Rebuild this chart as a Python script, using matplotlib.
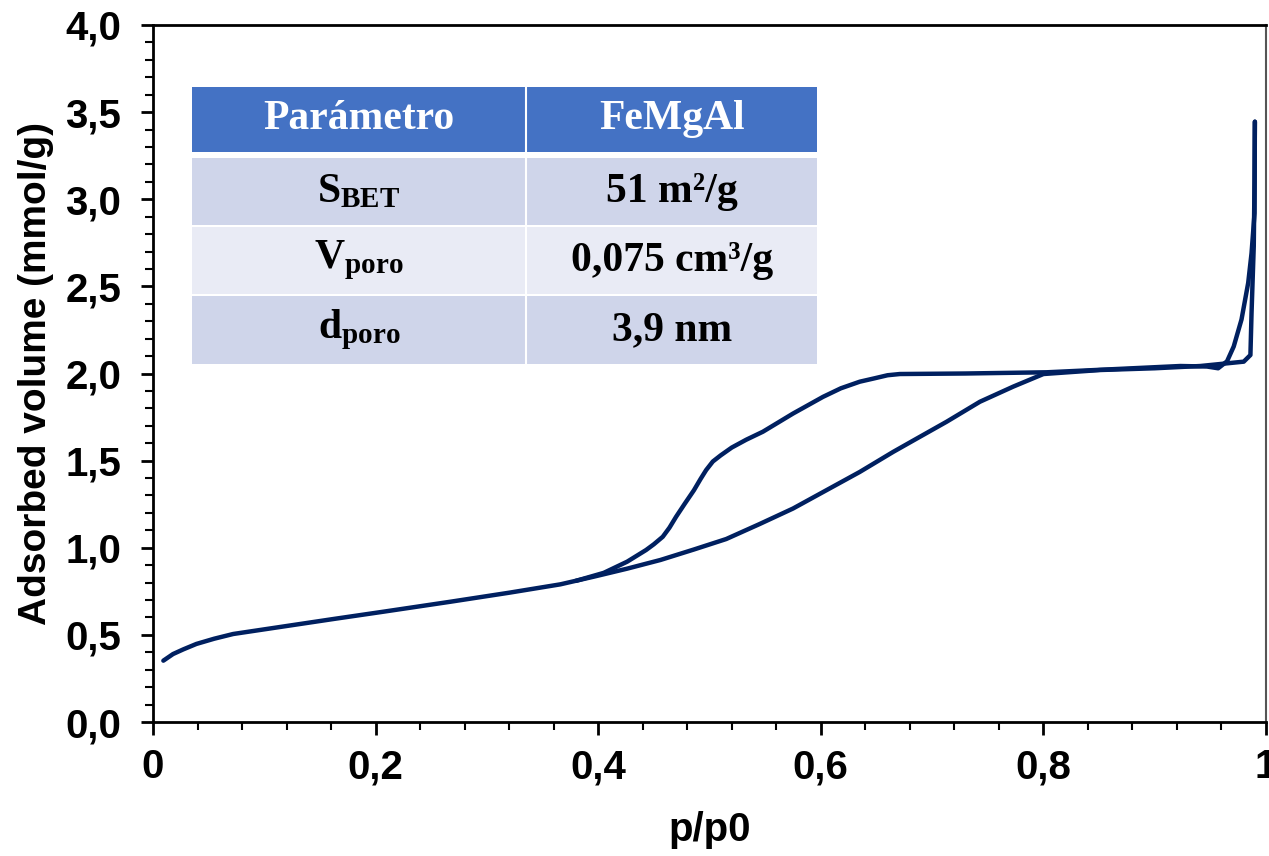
import matplotlib.pyplot as plt
from matplotlib.patches import Rectangle
from matplotlib.ticker import MultipleLocator, FixedLocator

# adsorption branch (p/p0, mmol/g)
ads_x = [0.0093, 0.018, 0.0273, 0.039, 0.055, 0.072, 0.117, 0.162, 0.207, 0.267,
         0.320, 0.366, 0.396, 0.426, 0.456, 0.486, 0.515, 0.545, 0.575, 0.605,
         0.635, 0.665, 0.683, 0.713, 0.743, 0.773, 0.800, 0.851, 0.900, 0.941,
         0.980, 0.986, 0.987, 0.989, 0.9897, 0.990]
ads_y = [0.352, 0.390, 0.417, 0.448, 0.478, 0.505, 0.548, 0.591, 0.633, 0.690,
         0.742, 0.790, 0.834, 0.880, 0.930, 0.990, 1.050, 1.136, 1.225, 1.330,
         1.435, 1.550, 1.615, 1.723, 1.838, 1.925, 1.997, 2.020, 2.030, 2.043,
         2.068, 2.106, 2.345, 2.730, 3.110, 3.445]

# desorption branch
des_x = [0.990, 0.9897, 0.987, 0.984, 0.978, 0.971, 0.965, 0.957, 0.947, 0.923,
         0.860, 0.803, 0.730, 0.671, 0.660, 0.648, 0.635, 0.618, 0.602, 0.575,
         0.548, 0.533, 0.520, 0.510, 0.503, 0.497, 0.492, 0.486, 0.478, 0.470,
         0.464, 0.458, 0.450, 0.443, 0.426, 0.405, 0.380]
des_y = [3.445, 2.920, 2.690, 2.520, 2.310, 2.155, 2.070, 2.030, 2.040, 2.043,
         2.024, 2.007, 2.000, 1.997, 1.990, 1.972, 1.953, 1.915, 1.866, 1.770,
         1.666, 1.620, 1.575, 1.530, 1.495, 1.446, 1.395, 1.330, 1.255, 1.178,
         1.115, 1.063, 1.020, 0.987, 0.920, 0.856, 0.810]

header = ['Parámetro', 'FeMgAl']
param_names = [r'$\mathrm{S}_{\mathrm{BET}}$', r'$\mathrm{V}_{\mathrm{poro}}$', r'$\mathrm{d}_{\mathrm{poro}}$']
param_values = ['51 m²/g', '0,075 cm³/g', '3,9 nm']

x_ticks = [0, 0.2, 0.4, 0.6, 0.8, 1.0]
x_labels = ['0', '0,2', '0,4', '0,6', '0,8', '1']
y_ticks = [0.0, 0.5, 1.0, 1.5, 2.0, 2.5, 3.0, 3.5, 4.0]
y_labels = ['0,0', '0,5', '1,0', '1,5', '2,0', '2,5', '3,0', '3,5', '4,0']

line_color = '#002060'

plt.rcParams['font.family'] = ['Liberation Sans', 'DejaVu Sans']
plt.rcParams['font.weight'] = 'bold'
plt.rcParams['mathtext.fontset'] = 'custom'
plt.rcParams['mathtext.rm'] = 'Liberation Serif:bold'
plt.rcParams['mathtext.it'] = 'Liberation Serif:bold'
plt.rcParams['mathtext.bf'] = 'Liberation Serif:bold'

fig = plt.figure(figsize=(12.69, 8.56), dpi=100)
ax = fig.add_axes([153 / 1269, 1 - 722 / 856, 1113 / 1269, 697 / 856])

ax.plot(ads_x, ads_y, color=line_color, lw=3.2, solid_capstyle='round', solid_joinstyle='round')
ax.plot(des_x, des_y, color=line_color, lw=3.2, solid_capstyle='round', solid_joinstyle='round')

ax.set_xlim(0, 1)
ax.set_ylim(0, 4)
ax.xaxis.set_major_locator(FixedLocator(x_ticks))
ax.set_xticklabels(x_labels)
ax.xaxis.set_minor_locator(MultipleLocator(0.04))
ax.yaxis.set_major_locator(FixedLocator(y_ticks))
ax.set_yticklabels(y_labels)
ax.yaxis.set_minor_locator(MultipleLocator(0.1))

ax.tick_params(which='major', direction='out', length=9, width=2, labelsize=29)
ax.tick_params(axis='y', which='major', pad=14)
ax.tick_params(axis='x', which='major', pad=10)
ax.tick_params(which='minor', direction='out', length=6, width=1.5)
for s in ax.spines.values():
    s.set_linewidth(2)
    s.set_color('black')
ax.spines['right'].set_color('#555555')
ax.spines['right'].set_linewidth(1.5)

ax.set_xlabel('p/p0', fontsize=29, fontweight='bold', labelpad=18)
ax.set_ylabel('Adsorbed volume (mmol/g)', fontsize=28, fontweight='bold', labelpad=8)

# inset table drawn in axes fraction
x0, xm, x1 = 0.035, 0.335, 0.597
rows = [(0.818, 0.911, '#4472C4'), (0.713, 0.809, '#CFD5EA'),
        (0.614, 0.710, '#E9EBF5'), (0.514, 0.611, '#CFD5EA')]
for (yb, yt, c) in rows:
    ax.add_patch(Rectangle((x0, yb), x1 - x0, yt - yb, transform=ax.transAxes,
                           facecolor=c, edgecolor='none', zorder=3))
ax.plot([xm, xm], [0.514, 0.911], transform=ax.transAxes, color='white', lw=1.5, zorder=4)

serif = ['Liberation Serif', 'DejaVu Serif']
yc = (rows[0][0] + rows[0][1]) / 2
ax.text((x0 + xm) / 2, yc, header[0], transform=ax.transAxes, ha='center', va='center',
        fontsize=30, fontweight='bold', family=serif, color='white', zorder=5)
ax.text((xm + x1) / 2, yc, header[1], transform=ax.transAxes, ha='center', va='center',
        fontsize=30, fontweight='bold', family=serif, color='white', zorder=5)
for i in range(3):
    yb, yt, _ = rows[i + 1]
    yc = (yb + yt) / 2
    ax.text((x0 + xm) / 2, yc, param_names[i], transform=ax.transAxes, ha='center', va='center',
            fontsize=30, zorder=5)
    ax.text((xm + x1) / 2, yc, param_values[i], transform=ax.transAxes, ha='center', va='center',
            fontsize=30, fontweight='bold', family=serif, zorder=5)

fig.savefig('out.png', dpi=100)
